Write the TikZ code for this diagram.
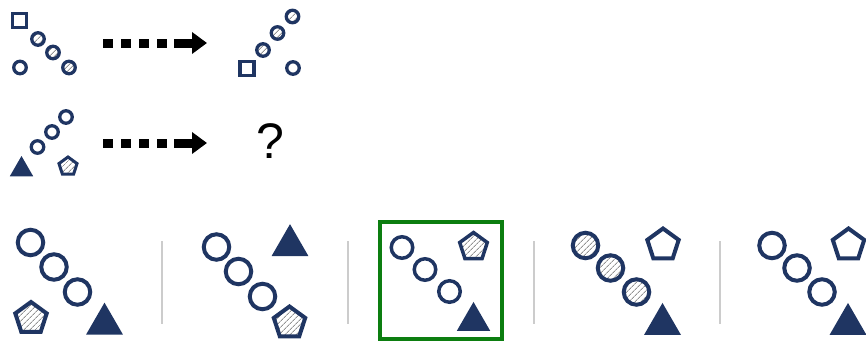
\documentclass[tikz,border=0pt]{standalone}
\usepackage{fontspec}
\setmainfont{Liberation Sans}
\usetikzlibrary{arrows.meta,shapes.geometric,patterns.meta}
\definecolor{navy}{RGB}{31,53,98}
\definecolor{okgreen}{RGB}{12,126,16}
\definecolor{rulegray}{RGB}{204,204,204}

\begin{document}
\begin{tikzpicture}[x=1pt,y=-1pt,
  hatch/.style={pattern={Lines[angle=45,distance=4pt,line width=0.9pt]},pattern color=gray!85},
  sc/.style={circle,draw=navy,line width=3.3pt,minimum size=12.5pt,inner sep=0pt},
  hsc/.style={sc,hatch},
  sq/.style={rectangle,draw=navy,line width=3.2pt,minimum size=14pt,inner sep=0pt},
  spent/.style={regular polygon,regular polygon sides=5,draw=navy,line width=3pt,minimum size=19pt,inner sep=0pt,hatch},
  stri/.style={regular polygon,regular polygon sides=3,fill=navy,minimum size=27pt,inner sep=0pt},
  bc/.style={circle,draw=navy,line width=4pt,minimum size=25.5pt,inner sep=0pt},
  hbc/.style={bc,hatch},
  pent/.style={regular polygon,regular polygon sides=5,draw=navy,line width=4pt,minimum size=33pt,inner sep=0pt},
  hpent/.style={pent,hatch},
  tri/.style={regular polygon,regular polygon sides=3,fill=navy,minimum size=42.7pt,inner sep=0pt},
  sep/.style={draw=rulegray,line width=1.6pt},
  go/.style={line width=9pt,dash pattern=on 10pt off 8pt on 10pt off 8pt on 10pt off 8pt on 10pt off 7pt on 40pt off 1pt,
    -{Triangle[length=15pt,width=21pt]}}]
\useasboundingbox (0,0) rectangle (866,343);
% example, first row
\node[sq] (asq) at (19.5,20.5) {};
\node[hsc] (ac1) at (38,39) {};
\node[hsc] (ac2) at (53,52.5) {};
\node[hsc] (ac3) at (69,67.5) {};
\node[sc] (ao) at (20,67.5) {};
\coordinate (as) at (103,43);
\coordinate (ae) at (207,43);
\draw[go] (as) -- (ae);
\node[hsc] (bc1) at (263,50) {};
\node[hsc] (bc2) at (277.5,33) {};
\node[hsc] (bc3) at (292.5,16.5) {};
\node[sq] (bsq) at (247,68.5) {};
\node[sc] (bo) at (293,68) {};
% second row
\node[stri] (ctri) at (21.5,169.5) {};
\node[sc] (cc1) at (37.5,147) {};
\node[sc] (cc2) at (52,132) {};
\node[sc] (cc3) at (66,117) {};
\node[spent] (cpent) at (68,166.5) {};
\coordinate (cs) at (103,143);
\coordinate (ce) at (207,143);
\draw[go] (cs) -- (ce);
\node[font=\fontsize{50}{50}\selectfont] (qm) at (270,141.5) {?};
% answer choices
\node[bc] (o1a) at (30.5,242.5) {};
\node[bc] (o1b) at (54,267) {};
\node[bc] (o1c) at (77.5,292) {};
\node[hpent] (o1p) at (31,318.5) {};
\node[tri] (o1t) at (104.5,324) {};
\draw[sep] (162,241) -- (162,324);
\node[bc] (o2a) at (216.5,247) {};
\node[bc] (o2b) at (238.5,271.5) {};
\node[bc] (o2c) at (262.5,296.5) {};
\node[tri] (o2t) at (290,245.5) {};
\node[hpent] (o2p) at (289.5,323) {};
\draw[sep] (348,241) -- (348,324);
\node[minimum width=122pt,minimum height=117pt,draw=okgreen,line width=4pt] (pick) at (441,280.5) {};
\node[bc,minimum size=21.5pt,line width=3.5pt] (o3a) at (402,247.5) {};
\node[bc,minimum size=21.5pt,line width=3.5pt] (o3b) at (425,269.5) {};
\node[bc,minimum size=21.5pt,line width=3.5pt] (o3c) at (449.5,291.5) {};
\node[hpent,minimum size=29pt,line width=3.5pt] (o3p) at (473.5,247) {};
\node[tri,minimum size=38.7pt] (o3t) at (473.5,321.3) {};
\draw[sep] (534,241) -- (534,324);
\node[hbc] (o4a) at (585.5,245.5) {};
\node[hbc] (o4b) at (610.5,268) {};
\node[hbc] (o4c) at (636.5,292) {};
\node[pent] (o4p) at (663,245) {};
\node[tri] (o4t) at (662.5,324.3) {};
\draw[sep] (720,241) -- (720,324);
\node[bc] (o5a) at (772,245.5) {};
\node[bc] (o5b) at (797,268) {};
\node[bc] (o5c) at (822,292) {};
\node[pent] (o5p) at (848.5,245) {};
\node[tri] (o5t) at (848,324.3) {};
\end{tikzpicture}
\end{document}
